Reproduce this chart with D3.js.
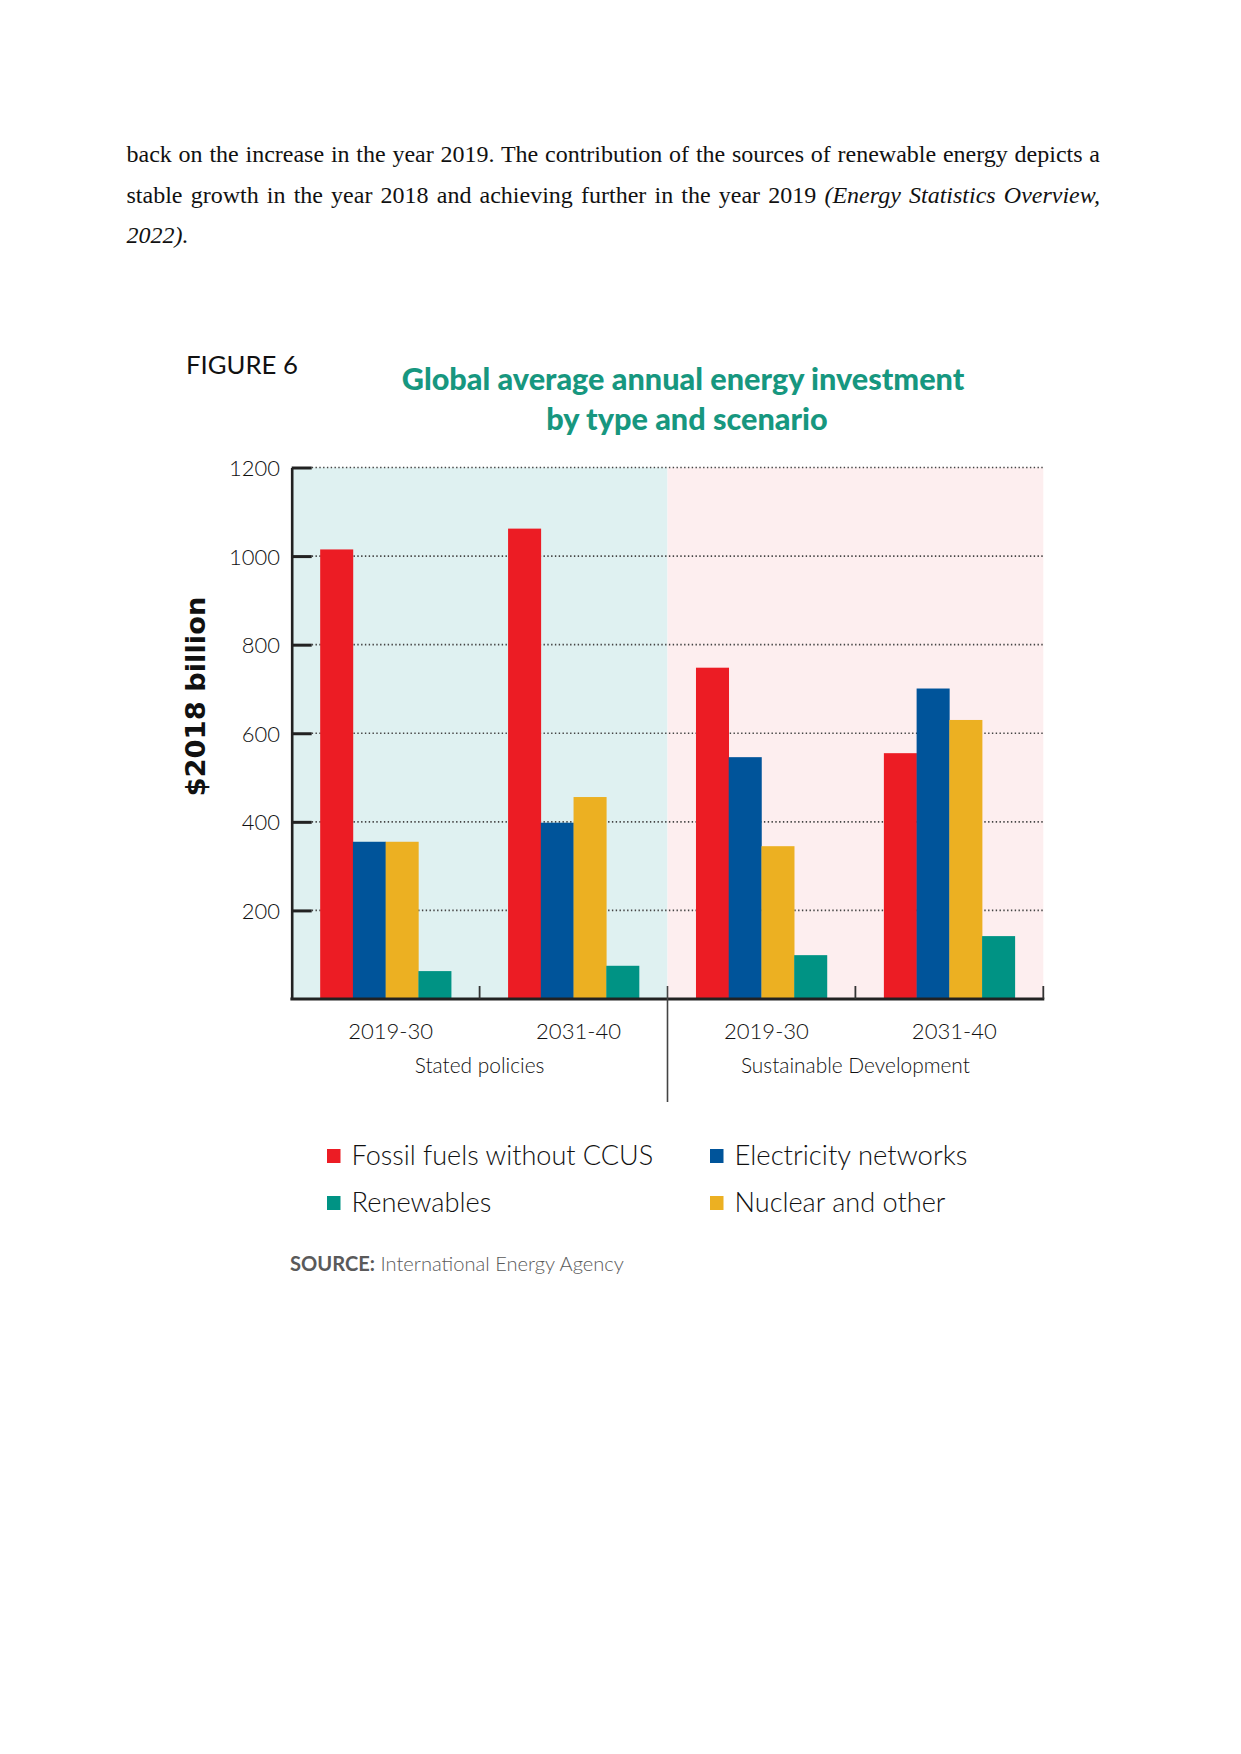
<!DOCTYPE html>
<html>
<head>
<meta charset="utf-8">
<script src="https://cdn.jsdelivr.net/npm/d3@7"></script>
<style>
  html, body { margin: 0; padding: 0; background: #fff; }
  svg { display: block; }
</style>
</head>
<body>
<svg id="page" width="1241" height="1754"></svg>
<script>
// ---- data ----
const categories = ["2019-30", "2031-40", "2019-30", "2031-40"];
const scenarios = ["Stated policies", "Sustainable Development"];
const seriesKeys = ["fossil", "electricity", "nuclear", "renewables"];
const seriesNames = ["Fossil fuels without CCUS", "Electricity networks", "Nuclear and other", "Renewables"];
const fossil = [1015, 1062, 748, 555];
const electricity = [355, 398, 546, 701];
const nuclear = [355, 456, 345, 630];
const renewables = [63, 75, 99, 142];
const yTicks = [200, 400, 600, 800, 1000, 1200];
const legendOrder = ["fossil", "electricity", "renewables", "nuclear"];

const seriesValues = { fossil, electricity, nuclear, renewables };
const colors = { fossil: "#ec1c24", electricity: "#00549a", nuclear: "#ecb022", renewables: "#009384" };
const names = {};
seriesKeys.forEach((k, i) => names[k] = seriesNames[i]);
// measured label widths in the reference (layout, not data)
const legendWidths = { fossil: 302, electricity: 233, renewables: 140, nuclear: 211 };

const svg = d3.select("#page");

function fitWidth(sel, w) {
  const L = sel.node().getComputedTextLength();
  const fs = parseFloat(sel.attr("font-size"));
  const nf = fs * w / L;
  sel.attr("font-size", nf);
  return nf;
}

// ---- paragraph ----
const para = svg.append("g").attr("font-family", "'Liberation Serif', 'Times New Roman', serif").attr("fill", "#111");
const pLeft = 126.5, pWidth = 973.5;
function justifyLine(t, target) {
  const txt = t.text();
  const spaces = (txt.match(/ /g) || []).length;
  const L = t.node().getComputedTextLength();
  t.attr("word-spacing", (target - L) / spaces);
}
const l1 = para.append("text").attr("x", pLeft).attr("y", 162).attr("font-size", 24)
  .text("back on the increase in the year 2019. The contribution of the sources of renewable energy depicts a");
justifyLine(l1, pWidth);
const l2 = para.append("text").attr("x", pLeft).attr("y", 203).attr("font-size", 24);
l2.append("tspan").text("stable growth in the year 2018 and achieving further in the year 2019 ");
l2.append("tspan").attr("font-style", "italic").text("(Energy Statistics Overview,");
justifyLine(l2, pWidth);
para.append("text").attr("x", pLeft).attr("y", 243).attr("font-size", 24).attr("font-style", "italic").text("2022).");

// ---- chart ----
const font = "Lato, 'Open Sans', sans-serif";
const x0 = d3.scaleBand().domain(d3.range(categories.length)).range([291.7, 1043.3]).padding(0);
const x1 = d3.scaleBand().domain(seriesKeys).range([0, x0.bandwidth()]).paddingInner(0).paddingOuter(0.87);
const y = d3.scaleLinear().domain([0, 1200]).range([999, 467.5]);

// figure label and title
const fig = svg.append("text").attr("x", 186).attr("y", 374).attr("font-family", font).attr("font-weight", 400)
  .attr("font-size", 24).attr("fill", "#111").text("FIGURE 6");
fitWidth(fig, 112);

const t1 = svg.append("text").attr("x", 683).attr("y", 390).attr("text-anchor", "middle")
  .attr("font-family", font).attr("font-weight", 900).attr("font-size", 30).attr("fill", "#17977f")
  .text("Global average annual energy investment");
const tfs = fitWidth(t1, 563);
svg.append("text").attr("x", 687).attr("y", 430).attr("text-anchor", "middle")
  .attr("font-family", font).attr("font-weight", 900).attr("font-size", tfs).attr("fill", "#17977f")
  .text("by type and scenario");

// backgrounds
svg.append("rect").attr("x", x0(0)).attr("y", y(1200)).attr("width", x0(2) - x0(0)).attr("height", y(0) - y(1200)).attr("fill", "#dff1f1");
svg.append("rect").attr("x", x0(2)).attr("y", y(1200)).attr("width", x0.range()[1] - x0(2)).attr("height", y(0) - y(1200)).attr("fill", "#fdeeef");

// gridlines
svg.append("g").selectAll("line").data(yTicks).join("line")
  .attr("x1", x0.range()[0] + 20).attr("x2", x0.range()[1])
  .attr("y1", d => y(d)).attr("y2", d => y(d))
  .attr("stroke", "#444").attr("stroke-width", 1.6).attr("stroke-dasharray", "1.4,2.4");

// bars
const groups = svg.append("g").selectAll("g").data(categories).join("g")
  .attr("transform", (d, i) => `translate(${x0(i)},0)`);
groups.selectAll("rect").data((d, i) => seriesKeys.map(k => ({ k, v: seriesValues[k][i] }))).join("rect")
  .attr("x", d => x1(d.k)).attr("width", x1.bandwidth() + 0.3)
  .attr("y", d => y(d.v)).attr("height", d => y(0) - y(d.v))
  .attr("fill", d => colors[d.k]);

// y axis
const yAxis = svg.append("g").attr("transform", `translate(${x0.range()[0]},0)`)
  .call(d3.axisLeft(y).tickValues(yTicks).tickFormat(d3.format("d")).tickSizeInner(-20).tickSizeOuter(0).tickPadding(11.7));
yAxis.select(".domain").attr("stroke", "#222").attr("stroke-width", 2.6);
yAxis.selectAll(".tick line").attr("stroke", "#222").attr("stroke-width", 3);
yAxis.selectAll(".tick text").attr("font-family", font).attr("font-weight", 300).attr("font-size", 25)
  .attr("fill", "#111").attr("dy", "0.36em");
const tickText = yAxis.select(".tick:last-of-type text");
const tickFs = fitWidth(tickText, 51);
yAxis.selectAll(".tick text").attr("font-size", tickFs);

// y title
svg.append("text").attr("transform", "translate(205,696.5) rotate(-90)").attr("text-anchor", "middle")
  .attr("font-family", "'DejaVu Sans', sans-serif").attr("font-weight", 700).attr("font-size", 22).attr("fill", "#111")
  .text("$2018 billion").call(s => fitWidth(s, 200));

// baseline and x ticks
svg.append("line").attr("x1", x0.range()[0] - 1.3).attr("x2", x0.range()[1] + 1)
  .attr("y1", y(0)).attr("y2", y(0)).attr("stroke", "#222").attr("stroke-width", 3);
const minorTicks = [x0(1), x0(3), x0.range()[1]];
svg.append("g").selectAll("line").data(minorTicks).join("line")
  .attr("x1", d => d).attr("x2", d => d).attr("y1", y(0)).attr("y2", y(0) - 13)
  .attr("stroke", "#333").attr("stroke-width", 1.8);
svg.append("line").attr("x1", x0(2)).attr("x2", x0(2)).attr("y1", y(0) - 13).attr("y2", 1102)
  .attr("stroke", "#444").attr("stroke-width", 1.6);

// category labels
const catLabels = svg.append("g").selectAll("text").data(categories).join("text")
  .attr("x", (d, i) => x0(i) + x0.bandwidth() / 2 + 5).attr("y", 1039).attr("text-anchor", "middle")
  .attr("font-family", font).attr("font-weight", 300).attr("font-size", 24).attr("fill", "#111").text(d => d);
const cfs = fitWidth(d3.select(catLabels.nodes()[0]), 85);
catLabels.attr("font-size", cfs);

// scenario labels
const scen = svg.append("g").selectAll("text").data(scenarios).join("text")
  .attr("x", (d, i) => x0(i * 2 + 1)).attr("y", 1073).attr("text-anchor", "middle")
  .attr("font-family", font).attr("font-weight", 300).attr("font-size", 21).attr("fill", "#111").text(d => d);
const sfs = fitWidth(d3.select(scen.nodes()[1]), 229);
scen.attr("font-size", sfs);

// legend
const legX = [327, 710], legY = [1149, 1196];
const leg = svg.append("g").selectAll("g").data(legendOrder).join("g")
  .attr("transform", (d, i) => `translate(${legX[i % 2]},${legY[Math.floor(i / 2)]})`);
leg.append("rect").attr("width", 13.5).attr("height", 14).attr("fill", d => colors[d]);
leg.append("text").attr("x", 24.5).attr("y", 16).attr("font-family", font).attr("font-weight", 300)
  .attr("font-size", 28).attr("fill", "#111").text(d => names[d])
  .each(function (d) { fitWidth(d3.select(this), legendWidths[d]); });

// source
const src = svg.append("text").attr("x", 290).attr("y", 1271).attr("font-family", font).attr("font-size", 20).attr("fill", "#5a5a5a");
src.append("tspan").attr("font-weight", 700).text("SOURCE:");
src.append("tspan").attr("font-weight", 300).text(" International Energy Agency");
fitWidth(src, 334);
</script>
</body>
</html>
